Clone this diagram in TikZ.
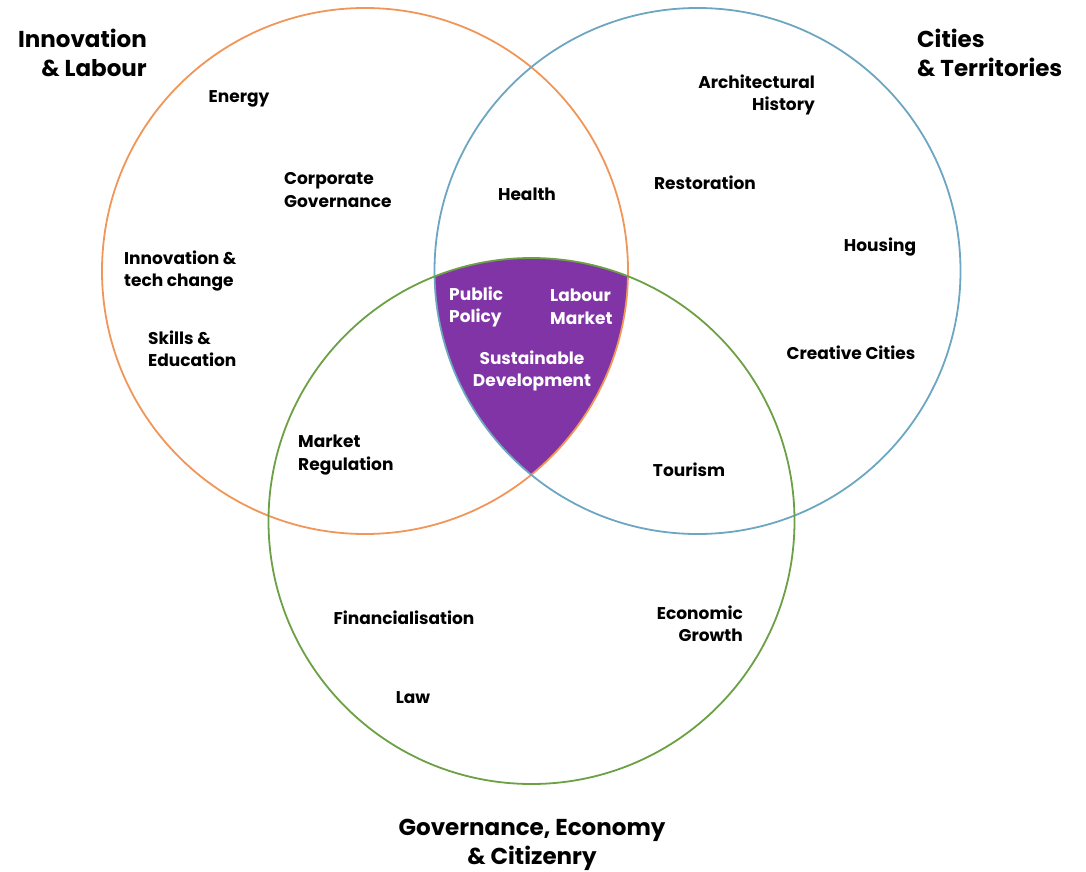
\documentclass[tikz,border=0pt]{standalone}
\usepackage{fontspec}
\setmainfont{Poppins}
\definecolor{labourorange}{RGB}{240,150,88}
\definecolor{citiesblue}{RGB}{108,166,192}
\definecolor{govgreen}{RGB}{108,160,68}
\definecolor{corepurple}{RGB}{128,52,165}
\begin{document}
\begin{tikzpicture}[x=1pt,y=-1pt]

    \tikzset{
      ring/.style={line width=1.8pt},
      title/.style={font=\fontsize{23}{29}\selectfont\bfseries, inner sep=0pt},
      topic/.style={font=\fontsize{17}{22.5}\selectfont\bfseries, inner sep=0pt},
      coretopic/.style={topic, text=white},
    }
    \useasboundingbox (0,0) rectangle (1086,872);
    % centre of the diagram
    \begin{scope}
      \clip (365,271) circle (263);
      \clip (697.5,271) circle (263);
      \fill[corepurple] (531.5,521) circle (263);
    \end{scope}
	\draw[ring,color=labourorange] (365,271) circle (263);
	\draw[ring,color=citiesblue] (697.5,271) circle (263);
	\draw[ring,color=govgreen] (531.5,521) circle (263);

	\node[title, align=right, anchor=east] (labour) at (147,53) {Innovation\\\& Labour};
	\node[title, align=left, anchor=west] (cities) at (917,53) {Cities\\\& Territories};
	\node[title, align=center] (gov) at (532,845) {Governance, Economy\\\& Citizenry};

	\node[topic] (energy) at (239,99) {Energy};
	\node[topic, align=left, anchor=west] (corporate) at (284,190) {Corporate\\Governance};
	\node[topic, align=left, anchor=west] (techchange) at (124,271) {Innovation \&\\tech change};
	\node[topic, align=left, anchor=west] (skills) at (148,349) {Skills \&\\Education};
	\node[topic, align=left, anchor=west] (regulation) at (298,455) {Market\\Regulation};

	\node[topic, align=right, anchor=east] (history) at (815,95) {Architectural\\History};
	\node[topic] (restoration) at (705,183) {Restoration};
	\node[topic] (housing) at (880,247) {Housing};
	\node[topic] (creative) at (851,353) {Creative Cities};

	\node[topic] (health) at (527,194) {Health};
	\node[topic] (tourism) at (689,470) {Tourism};

	\node[topic] (financial) at (404,618) {Financialisation};
	\node[topic, align=right, anchor=east] (growth) at (743,624) {Economic\\Growth};
	\node[topic] (law) at (413,698) {Law};

	\node[coretopic, align=left, anchor=west] (policy) at (449,307) {Public\\Policy};
	\node[coretopic, align=left, anchor=west] (market) at (550,307) {Labour\\Market};
	\node[coretopic, align=center] (sustainable) at (532,371) {Sustainable\\Development};

\end{tikzpicture}
\end{document}
